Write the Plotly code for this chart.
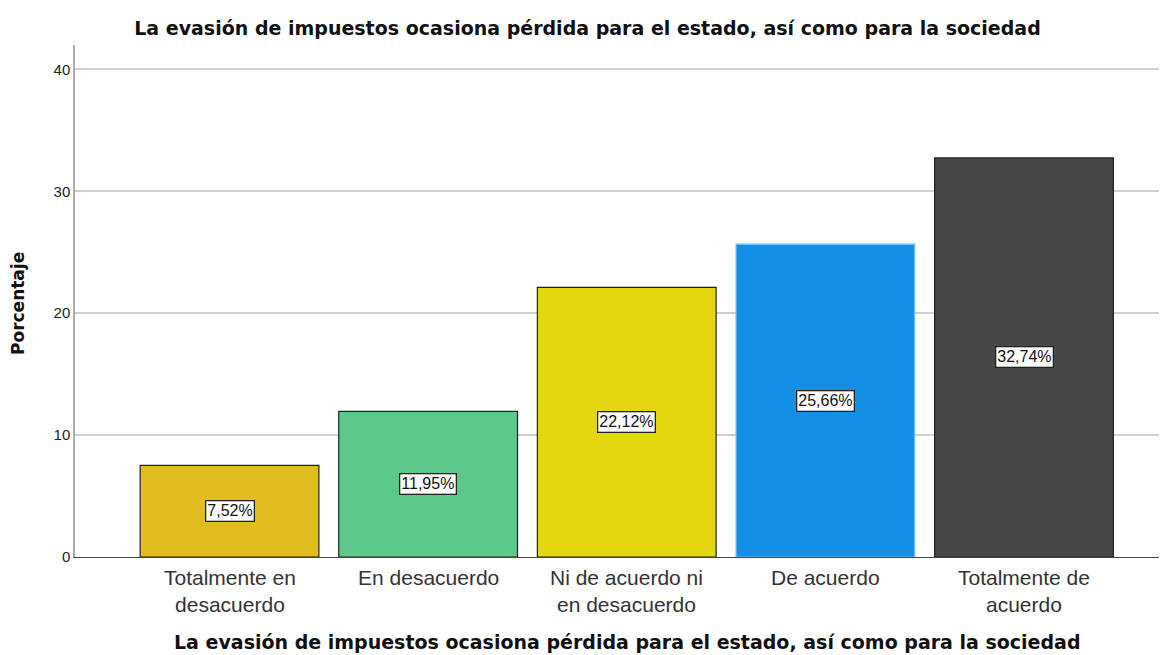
import plotly.graph_objects as go

categories = ["Totalmente en<br>desacuerdo", "En desacuerdo", "Ni de acuerdo ni<br>en desacuerdo", "De acuerdo", "Totalmente de<br>acuerdo"]
values = [7.52, 11.95, 22.12, 25.66, 32.74]
value_labels = ["7,52%", "11,95%", "22,12%", "25,66%", "32,74%"]
colors = ["#E0BC1E", "#5CC98A", "#E2D710", "#1390E5", "#464749"]
outline = ["#222222", "#222222", "#222222", "#7fc3f2", "#222222"]
y_ticks = [0, 10, 20, 30, 40]
title_text = "La evasión de impuestos ocasiona pérdida para el estado, así como para la sociedad"
y_title = "Porcentaje"

xpos = list(range(len(categories)))
FONT = "Liberation Sans, Arial"
TFONT = "DejaVu Sans, Liberation Sans"

fig = go.Figure()
fig.add_trace(go.Bar(
    x=xpos, y=values, width=0.9,
    marker=dict(color=colors, line=dict(color=outline, width=1.2)),
    hoverinfo="skip",
))

# value labels inside bars
for xi, v, lab in zip(xpos, values, value_labels):
    fig.add_annotation(x=xi, y=v / 2, text=lab, showarrow=False,
                       font=dict(family=FONT, size=16, color="#111"),
                       bgcolor="white", bordercolor="#222", borderwidth=1.3, borderpad=1)

# category labels
for xi, cat in zip(xpos, categories):
    fig.add_annotation(x=xi, xref="x", y=0, yref="paper", yanchor="top",
                       yshift=-7, text=cat, showarrow=False,
                       font=dict(family=FONT, size=21, color="#333"))

# axis titles
fig.add_annotation(x=0.5, xref="paper", xshift=6, y=0, yref="paper", yanchor="middle", yshift=-85,
                   text="<b>" + title_text + "</b>", showarrow=False,
                   font=dict(family=TFONT, size=19, color="#111"))
fig.add_annotation(x=0, xref="paper", xshift=-57, xanchor="center", y=0.5, yref="paper", yshift=-3,
                   text="<b>" + y_title + "</b>", textangle=-90, showarrow=False,
                   font=dict(family=TFONT, size=17, color="#111"))

fig.update_layout(
    width=1167, height=655,
    margin=dict(l=67, r=8, t=37, b=106),
    paper_bgcolor="white", plot_bgcolor="white",
    showlegend=False,
    font=dict(family=FONT, color="#222"),
    title=dict(text="<b>" + title_text + "</b>", x=579.5 / 1167, xanchor="center", y=1 - 20 / 655, yanchor="middle",
               font=dict(family=TFONT, size=19, color="#111")),
    xaxis=dict(range=[-0.778, 4.72], tickvals=xpos, showticklabels=False,
               showgrid=False, zeroline=False, automargin=False,
               showline=True, linecolor="#444", linewidth=1, ticks=""),
    yaxis=dict(range=[0, 42], tickvals=y_ticks, tickfont=dict(size=15, color="#222"),
               showgrid=True, gridcolor="#cfcfcf", gridwidth=2, zeroline=False, automargin=False,
               showline=True, linecolor="#aaa", linewidth=1.5, ticks="", ticklen=0),
)

fig.write_html("out.html")
